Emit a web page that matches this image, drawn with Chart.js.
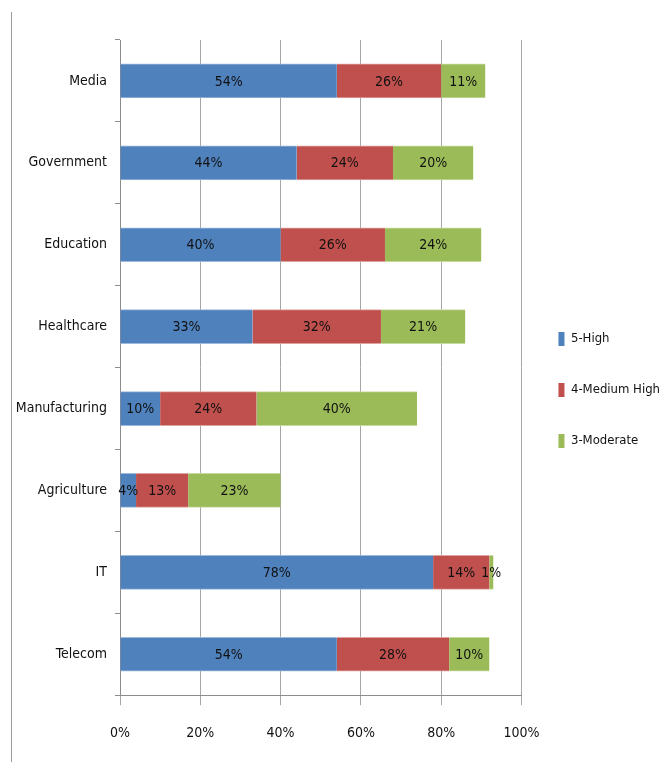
<!DOCTYPE html>
<html>
<head>
<meta charset="utf-8">
<script src="https://cdn.jsdelivr.net/npm/chart.js@4"></script>
<style>
  html, body { margin: 0; padding: 0; background: #fff; }
  #wrap { position: relative; width: 670px; height: 762px; }
  #frame { position: absolute; left: 11px; top: 12px; bottom: 0; width: 1px; background: #9a9a9a; }
  canvas { position: absolute; left: 0; top: 0; }
</style>
</head>
<body>
<div id="wrap">
  <div id="frame"></div>
  <canvas id="c" width="670" height="762"></canvas>
</div>
<script>
const categories = ["Media", "Government", "Education", "Healthcare", "Manufacturing", "Agriculture", "IT", "Telecom"];
const seriesNames = ["5-High", "4-Medium High", "3-Moderate"];
const highValues = [54, 44, 40, 33, 10, 4, 78, 54];
const mediumHighValues = [26, 24, 26, 32, 24, 13, 14, 28];
const moderateValues = [11, 20, 24, 21, 40, 23, 1, 10];
const xTickValues = [0, 20, 40, 60, 80, 100];
const colors = ["#4F81BD", "#C0504D", "#9BBB59"];
const edgeColors = ["#9DB9DC", "#DDA3A1", "#C6DAA0"];

const FONT = "'Liberation Sans Narrow', 'DejaVu Sans Condensed', 'Noto Sans', sans-serif";

const labelPlugin = {
  id: 'segLabels',
  afterDatasetsDraw(chart) {
    const ctx = chart.ctx;
    ctx.save();
    ctx.font = "14px " + FONT;
    ctx.fillStyle = "#111";
    ctx.textAlign = "center";
    ctx.textBaseline = "middle";
    chart.data.datasets.forEach((ds, i) => {
      const meta = chart.getDatasetMeta(i);
      meta.data.forEach((bar, j) => {
        const v = ds.data[j];
        const cx = (bar.x + bar.base) / 2;
        ctx.fillText(v + "%", cx, bar.y + 1);
      });
    });
    ctx.restore();
  }
};

const legendShift = {
  id: 'legendShift',
  afterLayout(chart) {
    if (chart.legend) { chart.legend.top -= 11; chart.legend.bottom -= 11; }
  }
};

const mkDataset = (i, data) => ({
  label: seriesNames[i],
  data: data,
  backgroundColor: colors[i],
  borderColor: edgeColors[i],
  borderWidth: { top: 1, bottom: 1, left: 0, right: 0 },
  borderSkipped: false
});

new Chart(document.getElementById('c'), {
  type: 'bar',
  data: {
    labels: categories,
    datasets: [
      mkDataset(0, highValues),
      mkDataset(1, mediumHighValues),
      mkDataset(2, moderateValues)
    ]
  },
  options: {
    indexAxis: 'y',
    responsive: false,
    animation: false,
    layout: { padding: { top: 40, left: 0, right: 0, bottom: 0 } },
    datasets: { bar: { barThickness: 34 } },
    scales: {
      x: {
        stacked: true,
        min: 0, max: 100,
        afterBuildTicks(scale) { scale.ticks = xTickValues.map(v => ({ value: v })); },
        ticks: {
          callback: v => v + "%",
          font: { family: FONT, size: 14 },
          color: "#111",
          padding: 20
        },
        grid: { color: "#a6a6a6", tickLength: 10, lineWidth: 1 },
        border: { color: "#8c8c8c" }
      },
      y: {
        stacked: true,
        afterFit(scale) { scale.width = 120; },
        ticks: {
          font: { family: FONT, size: 14 },
          color: "#111",
          padding: 8
        },
        grid: { drawOnChartArea: false, tickLength: 5, color: "#8c8c8c", offset: true },
        border: { color: "#8c8c8c" }
      }
    },
    plugins: {
      legend: {
        position: 'right',
        labels: {
          boxWidth: 6,
          boxHeight: 14,
          padding: 37,
          color: "#111",
          font: { family: FONT, size: 13 },
          generateLabels(chart) {
            return chart.data.datasets.map((ds, i) => ({
              text: ds.label,
              fillStyle: colors[i],
              strokeStyle: colors[i],
              lineWidth: 0,
              fontColor: "#111",
              datasetIndex: i,
              hidden: false
            }));
          }
        }
      },
      tooltip: { enabled: false }
    }
  },
  plugins: [labelPlugin, legendShift]
});
</script>
</body>
</html>
